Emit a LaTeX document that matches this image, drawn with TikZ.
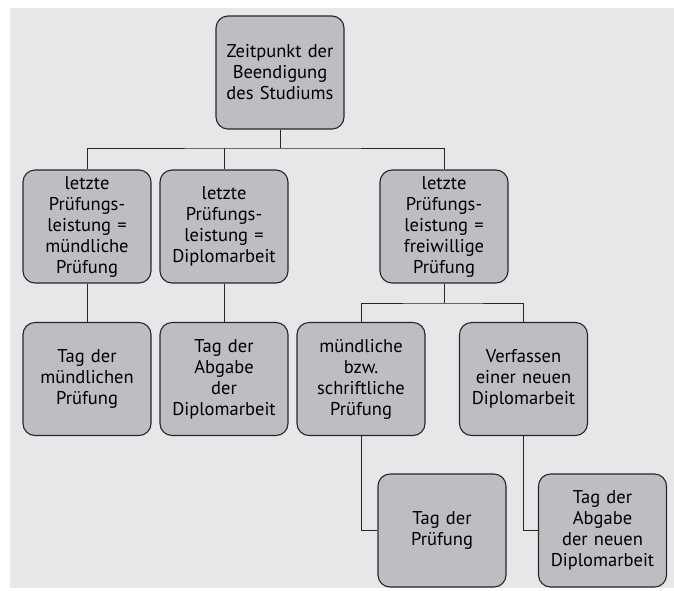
\documentclass[tikz,border=0pt]{standalone}
\usepackage{fontspec}
\setmainfont{PT Sans}
\usetikzlibrary{positioning}
\definecolor{boxgray}{RGB}{189,190,193}
\definecolor{pagegray}{RGB}{230,231,233}
\tikzset{
  box/.style={draw=black!85, fill=boxgray, line width=1.1pt, rounded corners=12pt,
    minimum width=128pt, minimum height=113pt, text width=124pt, align=center,
    inner sep=0pt, font=\fontsize{18.5}{21}\selectfont},
  link/.style={line width=1pt, draw=black!85}
}
\begin{document}
\begin{tikzpicture}[x=1pt, y=-1pt]
    \useasboundingbox (0,0) rectangle (674,590);
    \fill[pagegray] (10,8) rectangle (674,588);

    % top
    \node[box] (ende) at (280,72.5) {Zeitpunkt der\\Beendigung\\des Studiums};

    % letzte Pruefungsleistung
    \node[box] (muendl) at (87,226.5) {letzte\\Prüfungs-\\leistung =\\mündliche\\Prüfung};
    \node[box] (diplom) at (224,226.5) {letzte\\Prüfungs-\\leistung =\\Diplomarbeit};
    \node[box] (freiw) at (444,226.5) {letzte\\Prüfungs-\\leistung =\\freiwillige\\Prüfung};

    \node[box] (tagmuendl) at (87,379) {Tag der\\mündlichen\\Prüfung};
    \node[box] (tagdiplom) at (224,379) {Tag der\\Abgabe\\der\\Diplomarbeit};
    \node[box] (schriftl) at (361,379) {mündliche\\bzw.\\schriftliche\\Prüfung};
    \node[box] (neuarb) at (523.5,379) {Verfassen\\einer neuen\\Diplomarbeit};

    \node[box] (tagpruef) at (442,530.5) {Tag der\\Prüfung};
    \node[box] (tagneu) at (602.5,530.5) {Tag der\\Abgabe\\der neuen\\Diplomarbeit};

    % connectors
    \coordinate (bus1) at (280,148);
    \coordinate (bus2) at (444,303);
    \draw[link] (ende.south) -- (bus1);
    \draw[link] (muendl.north) |- (bus1) -| (freiw.north);
    \draw[link] (diplom.north) -- (diplom.north |- bus1);
    \draw[link] (muendl.south) -- (tagmuendl.north);
    \draw[link] (diplom.south) -- (tagdiplom.north);
    \draw[link] (freiw.south) -- (bus2);
    \draw[link] (schriftl.north) |- (bus2) -| (neuarb.north);
    \draw[link] (schriftl.south) |- (tagpruef.west);
    \draw[link] (neuarb.south) |- (tagneu.west);
\end{tikzpicture}
\end{document}
